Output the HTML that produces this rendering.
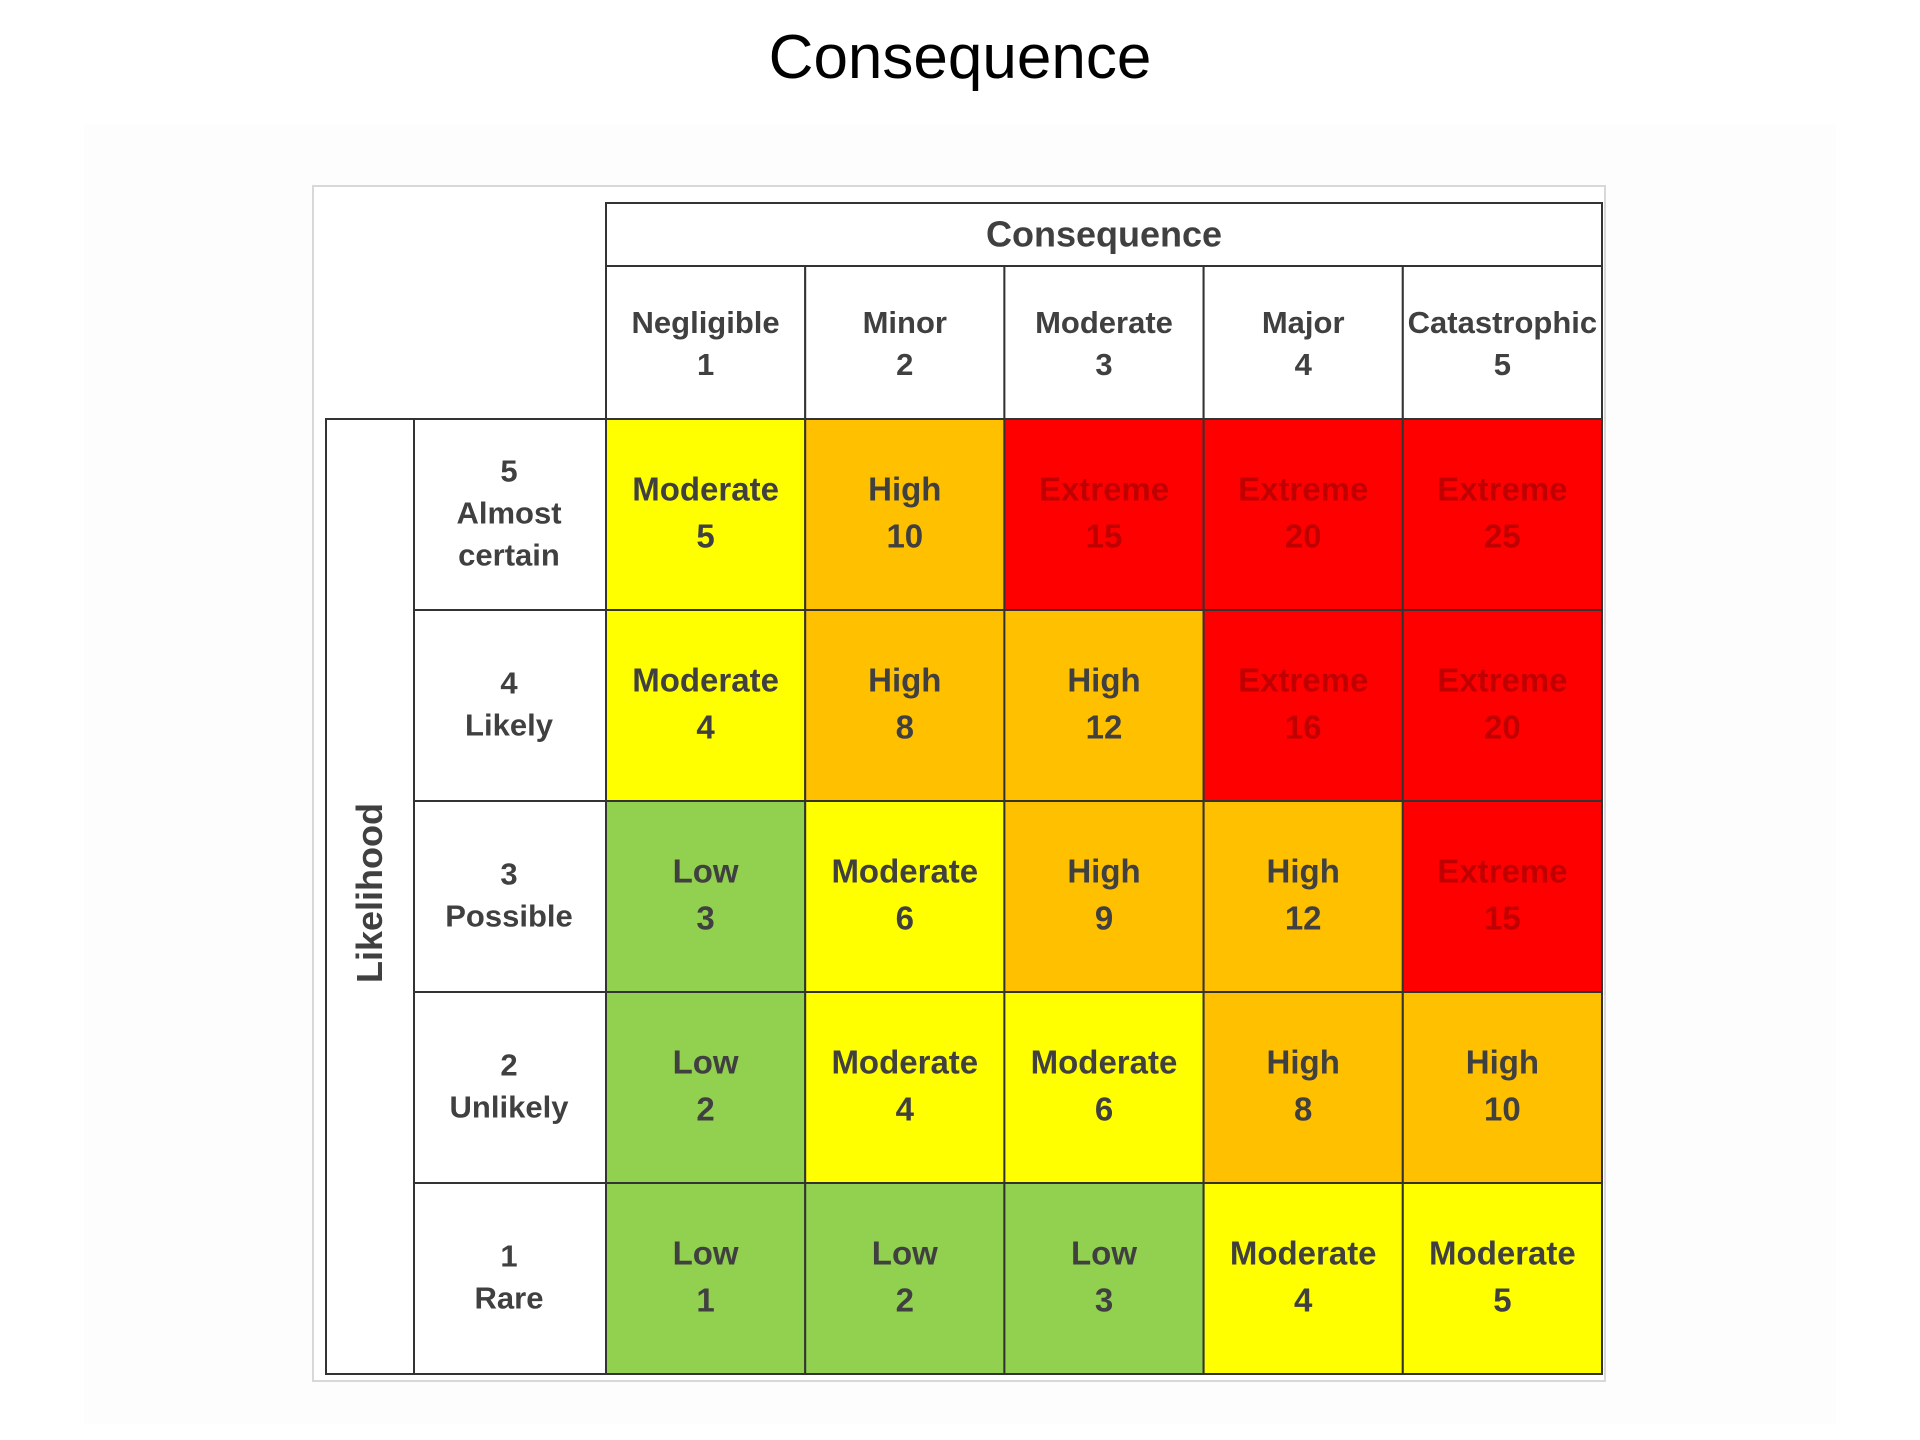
<!DOCTYPE html>
<html><head><meta charset="utf-8"><style>
html,body{margin:0;padding:0;background:#fff;}
svg{display:block;font-family:"Liberation Sans",sans-serif;}
</style></head><body>
<svg id="chart" width="1920" height="1440" viewBox="0 0 1920 1440">
<rect x="84" y="124" width="1752" height="1300" fill="#fdfdfd"/>
<text x="960" y="78" text-anchor="middle" font-size="62" fill="#000">Consequence</text>
<rect x="313" y="186" width="1292" height="1195" fill="#fff" stroke="#d8d8d8" stroke-width="2"/>
<g id="grid"></g>
</svg>
<script>
const consequenceNames = ["Negligible","Minor","Moderate","Major","Catastrophic"];
const consequenceScores = [1,2,3,4,5];
const likelihoodNames = ["Almost certain","Likely","Possible","Unlikely","Rare"];
const likelihoodScores = [5,4,3,2,1];
const riskLevels = [
 ["Moderate","High","Extreme","Extreme","Extreme"],
 ["Moderate","High","High","Extreme","Extreme"],
 ["Low","Moderate","High","High","Extreme"],
 ["Low","Moderate","Moderate","High","High"],
 ["Low","Low","Low","Moderate","Moderate"]
];
const riskScores = [
 [5,10,15,20,25],
 [4,8,12,16,20],
 [3,6,9,12,15],
 [2,4,6,8,10],
 [1,2,3,4,5]
];
const levelFill = {Low:"#92d050",Moderate:"#ffff00",High:"#ffc000",Extreme:"#ff0000"};
const levelText = {Low:"#404040",Moderate:"#404040",High:"#404040",Extreme:"#c00000"};

const NS="http://www.w3.org/2000/svg";
const g=document.getElementById('grid');
const x0=606,x1=1602,yTop=419,yBot=1374;
const colW=(x1-x0)/consequenceNames.length, rowH=(yBot-yTop)/likelihoodNames.length;
const xs=i=>x0+i*colW, ys=j=>yTop+j*rowH;
function mk(tag,attrs){const e=document.createElementNS(NS,tag);for(const k in attrs)e.setAttribute(k,attrs[k]);g.appendChild(e);return e;}
function txt(x,y,lines,size,color,gap,weight){
  const t=mk('text',{x:x,'text-anchor':'middle','font-size':size,fill:color,'font-weight':weight||'bold'});
  const y0=y-(lines.length-1)*gap/2;
  lines.forEach((l,i)=>{const s=document.createElementNS(NS,'tspan');s.setAttribute('x',x);s.setAttribute('y',y0+i*gap+size*0.35);s.textContent=l;t.appendChild(s);});
  return t;
}
for(let j=0;j<riskLevels.length;j++){
 for(let i=0;i<riskLevels[j].length;i++){
  const lvl=riskLevels[j][i];
  const r=mk('rect',{x:xs(i),y:ys(j),width:colW,height:rowH,fill:levelFill[lvl],stroke:"#333",'stroke-width':2});
  
  
  const t=txt(xs(i)+colW/2,ys(j)+rowH/2-2,[lvl,String(riskScores[j][i])],33,levelText[lvl],47,'normal');
  t.setAttribute('font-weight','600');
  
  
 }
}
const ch=mk('rect',{x:x0,y:203,width:x1-x0,height:63,fill:"#fff",stroke:"#333",'stroke-width':2});


const cht=txt((x0+x1)/2,234,["Consequence"],36,"#404040",0);


for(let i=0;i<consequenceNames.length;i++){
 const r=mk('rect',{x:xs(i),y:266,width:colW,height:yTop-266,fill:"#fff",stroke:"#333",'stroke-width':2});
 
 
 const t=txt(xs(i)+colW/2,343,[consequenceNames[i],String(consequenceScores[i])],31,"#404040",42);
 
 
}
const lr=mk('rect',{x:326,y:yTop,width:88,height:yBot-yTop,fill:"#fff",stroke:"#333",'stroke-width':2});


const lt=mk('text',{x:0,y:0,'text-anchor':'middle','font-size':36,'font-weight':'bold',fill:"#404040",transform:"translate(382,893) rotate(-90)"});
lt.textContent="Likelihood";


for(let j=0;j<likelihoodNames.length;j++){
 const r=mk('rect',{x:414,y:ys(j),width:x0-414,height:rowH,fill:"#fff",stroke:"#333",'stroke-width':2});
 
 
 const words=likelihoodNames[j].split(' ');
 const t=txt(509,ys(j)+rowH/2-2,[String(likelihoodScores[j])].concat(words),31,"#404040",42);
 
 
}
</script>
</body></html>
